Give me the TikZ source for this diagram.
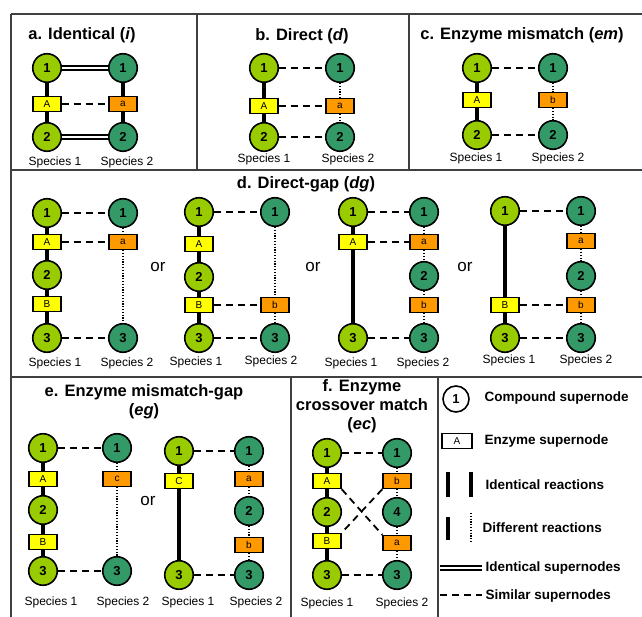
\documentclass[tikz,border=0pt]{standalone}
\usepackage{fontspec}
\setmainfont{Liberation Sans}
\definecolor{lg}{HTML}{99CC00}
\definecolor{tg}{HTML}{339966}
\definecolor{yel}{HTML}{FFFF00}
\definecolor{org}{HTML}{FF9900}
\tikzset{
 cA/.style={circle, draw=black, line width=1.6pt, fill=lg, minimum size=28.5pt, inner sep=0pt, font=\fontsize{13}{13}\selectfont\bfseries},
 cB/.style={cA, fill=tg},
 cW/.style={cA, fill=white, minimum size=26pt},
 eA/.style={rectangle, draw=black, line width=1.4pt, fill=yel, minimum width=28pt, minimum height=15pt, inner sep=0pt, font=\fontsize{10}{10}\selectfont},
 eB/.style={eA, fill=org},
 eW/.style={eA, fill=white, minimum width=30pt},
 sp/.style={font=\fontsize{12}{12}\selectfont},
 ttl/.style={font=\fontsize{16.5}{19}\selectfont\bfseries, align=center},
 idr/.style={line width=3.4pt},
 dfr/.style={line width=1.2pt, dash pattern=on 1.2pt off 1.6pt},
 sim/.style={line width=1.8pt, dash pattern=on 7pt off 5pt},
 ids/.style={double, double distance=2.2pt, line width=1.5pt},
 orr/.style={font=\fontsize{17}{17}\selectfont},
 lgt/.style={anchor=west, font=\fontsize{13.5}{15}\selectfont\bfseries},
 frm/.style={line width=2pt, draw=black!75},
}
\begin{document}
\begin{tikzpicture}[x=1pt,y=-1pt]
\useasboundingbox (0,0) rectangle (642,617);
% frame
\draw[frm] (11,14) -- (642,14);
\draw[frm] (11,14) -- (11,617);
\draw[frm] (11,170) -- (642,170);
\draw[frm] (11,377) -- (642,377);
\draw[frm] (197,14) -- (197,170);
\draw[frm] (409,14) -- (409,170);
\draw[frm] (291,377) -- (291,617);
\draw[frm] (438,377) -- (438,617);

% ---------- panel a
\node[ttl] (ta) at (82,35) {a. Identical (\textit{i})};
\node[cA] (a1) at (47,68) {1};
\node[eA] (aA) at (47,104) {A};
\node[cA] (a2) at (47,137) {2};
\node[cB] (b1) at (123,68) {1};
\node[eB] (ba) at (123,104) {a};
\node[cB] (b2) at (123,137) {2};
\node[sp] (as1) at (55,162) {Species 1};
\node[sp] (as2) at (127,162) {Species 2};
\draw[idr] (a1)--(aA) (aA)--(a2) (b1)--(ba) (ba)--(b2);
\draw[ids] (a1)--(b1) (a2)--(b2);
\draw[sim] (aA)--(ba);

% ---------- panel b
\node[ttl] (tb) at (302,36) {b. Direct (\textit{d})};
\node[cA] (c1) at (264,68) {1};
\node[eA] (cA) at (264,106) {A};
\node[cA] (c2) at (264,137) {2};
\node[cB] (d1) at (340,68) {1};
\node[eB] (da) at (340,106) {a};
\node[cB] (d2) at (340,137) {2};
\node[sp] (bs1) at (264,159) {Species 1};
\node[sp] (bs2) at (348,159) {Species 2};
\draw[idr] (c1)--(cA) (cA)--(c2);
\draw[dfr] (d1)--(da) (da)--(d2);
\draw[sim] (c1)--(d1) (cA)--(da) (c2)--(d2);

% ---------- panel c
\node[ttl] (tc) at (522,35) {c. Enzyme mismatch (\textit{em})};
\node[cA] (e1) at (477,68) {1};
\node[eA] (eA) at (477,100) {A};
\node[cA] (e2) at (477,135) {2};
\node[cB] (f1) at (553,68) {1};
\node[eB] (fb) at (553,100) {b};
\node[cB] (f2) at (553,135) {2};
\node[sp] (cs1) at (476,158) {Species 1};
\node[sp] (cs2) at (558,158) {Species 2};
\draw[idr] (e1)--(eA) (eA)--(e2);
\draw[dfr] (f1)--(fb) (fb)--(f2);
\draw[sim] (e1)--(f1) (e2)--(f2);

% ---------- panel d
\node[ttl] (td) at (306,184) {d. Direct-gap (\textit{dg})};
% sub 1
\node[cA] (g1) at (47,213) {1};
\node[eA] (gA) at (47,242) {A};
\node[cA] (g2) at (47,275) {2};
\node[eA] (gB) at (47,304) {B};
\node[cA] (g3) at (47,338) {3};
\node[cB] (h1) at (123,213) {1};
\node[eB] (ha) at (123,242) {a};
\node[cB] (h3) at (123,338) {3};
\node[sp] (ds1) at (55,363) {Species 1};
\node[sp] (ds2) at (127,363) {Species 2};
\draw[idr] (g1)--(gA) (gA)--(g2) (g2)--(gB) (gB)--(g3);
\draw[dfr] (h1)--(ha) (ha)--(h3);
\draw[sim] (g1)--(h1) (gA)--(ha) (g3)--(h3);
\node[orr] (or1) at (158,267) {or};
% sub 2
\node[cA] (i1) at (199,212) {1};
\node[eA] (iA) at (199,244) {A};
\node[cA] (i2) at (199,277) {2};
\node[eA] (iB) at (199,305) {B};
\node[cA] (i3) at (199,338) {3};
\node[cB] (j1) at (275,212) {1};
\node[eB] (jb) at (275,305) {b};
\node[cB] (j3) at (275,338) {3};
\node[sp] (ds3) at (196,362) {Species 1};
\node[sp] (ds4) at (271,361) {Species 2};
\draw[idr] (i1)--(iA) (iA)--(i2) (i2)--(iB) (iB)--(i3);
\draw[dfr] (j1)--(jb) (jb)--(j3);
\draw[sim] (i1)--(j1) (iB)--(jb) (i3)--(j3);
\node[orr] (or2) at (313,267) {or};
% sub 3
\node[cA] (k1) at (353,212) {1};
\node[eA] (kA) at (353,242) {A};
\node[cA] (k3) at (353,338) {3};
\node[cB] (l1) at (424,212) {1};
\node[eB] (la) at (424,242) {a};
\node[cB] (l2) at (424,276) {2};
\node[eB] (lb) at (424,305) {b};
\node[cB] (l3) at (424,338) {3};
\node[sp] (ds5) at (351,363) {Species 1};
\node[sp] (ds6) at (423,363) {Species 2};
\draw[idr] (k1)--(kA) (kA)--(k3);
\draw[dfr] (l1)--(la) (la)--(l2) (l2)--(lb) (lb)--(l3);
\draw[sim] (k1)--(l1) (kA)--(la) (k3)--(l3);
\node[orr] (or3) at (465,267) {or};
% sub 4
\node[cA] (m1) at (505,211) {1};
\node[eA] (mB) at (505,305) {B};
\node[cA] (m3) at (505,338) {3};
\node[cB] (n1) at (581,211) {1};
\node[eB] (na) at (581,241) {a};
\node[cB] (n2) at (581,276) {2};
\node[eB] (nb) at (581,305) {b};
\node[cB] (n3) at (581,338) {3};
\node[sp] (ds7) at (509,360) {Species 1};
\node[sp] (ds8) at (586,360) {Species 2};
\draw[idr] (m1)--(mB) (mB)--(m3);
\draw[dfr] (n1)--(na) (na)--(n2) (n2)--(nb) (nb)--(n3);
\draw[sim] (m1)--(n1) (mB)--(nb) (m3)--(n3);

% ---------- panel e
\node[ttl] (te) at (144,402) {e. Enzyme mismatch-gap\\(\textit{eg})};
% sub 1
\node[cA] (o1) at (43,448) {1};
\node[eA] (oA) at (43,479) {A};
\node[cA] (o2) at (43,510) {2};
\node[eA] (oB) at (43,542) {B};
\node[cA] (o3) at (43,571) {3};
\node[cB] (p1) at (117,448) {1};
\node[eB] (pc) at (117,479) {c};
\node[cB] (p3) at (117,571) {3};
\node[sp] (es1) at (51,602) {Species 1};
\node[sp] (es2) at (123,602) {Species 2};
\draw[idr] (o1)--(oA) (oA)--(o2) (o2)--(oB) (oB)--(o3);
\draw[dfr] (p1)--(pc) (pc)--(p3);
\draw[sim] (o1)--(p1) (o3)--(p3);
\node[orr] (or4) at (148,501) {or};
% sub 2
\node[cA] (q1) at (179,451) {1};
\node[eA] (qC) at (179,481) {C};
\node[cA] (q3) at (179,575) {3};
\node[cB] (r1) at (249,451) {1};
\node[eB] (ra) at (249,479) {a};
\node[cB] (r2) at (249,511) {2};
\node[eB] (rb) at (249,545) {b};
\node[cB] (r3) at (249,575) {3};
\node[sp] (es3) at (188,602) {Species 1};
\node[sp] (es4) at (256,602) {Species 2};
\draw[idr] (q1)--(qC) (qC)--(q3);
\draw[dfr] (r1)--(ra) (ra)--(r2) (r2)--(rb) (rb)--(r3);
\draw[sim] (q1)--(r1) (q3)--(r3);

% ---------- panel f
\node[ttl] (tf) at (362,406) {f. Enzyme\\crossover match\\(\textit{ec})};
\node[cA] (s1) at (327,453) {1};
\node[eA] (sA) at (327,481) {A};
\node[cA] (s2) at (327,512) {2};
\node[eA] (sB) at (327,541) {B};
\node[cA] (s3) at (327,575) {3};
\node[cB] (t1) at (397,453) {1};
\node[eB] (tb) at (397,481) {b};
\node[cB] (t4) at (397,512) {4};
\node[eB] (ta) at (397,543) {a};
\node[cB] (t3) at (397,575) {3};
\node[sp] (fs1) at (327,603) {Species 1};
\node[sp] (fs2) at (402,603) {Species 2};
\draw[idr] (s1)--(sA) (sA)--(s2) (s2)--(sB) (sB)--(s3);
\draw[dfr] (t1)--(tb) (tb)--(t4) (t4)--(ta) (ta)--(t3);
\draw[sim] (s1)--(t1) (s3)--(t3);
\draw[sim] (sA.south east)--(ta.north west);
\draw[sim] (tb.south west)--(sB.north east);

% ---------- legend
\node[cW] (lc) at (456,399) {1};
\node[lgt] (lt1) at (481,398) {Compound supernode};
\node[eW] (le) at (457,441) {A};
\node[lgt] (lt2) at (481,441) {Enzyme supernode};
\coordinate (r1t) at (448,472); \coordinate (r1b) at (448,497);
\coordinate (r2t) at (471,472); \coordinate (r2b) at (471,497);
\draw[idr] (r1t)--(r1b) (r2t)--(r2b);
\node[lgt] (lt3) at (482,485) {Identical reactions};
\coordinate (r3t) at (448,517); \coordinate (r3b) at (448,540);
\coordinate (r4t) at (471,513); \coordinate (r4b) at (471,542);
\draw[idr] (r3t)--(r3b);
\draw[dfr] (r4t)--(r4b);
\node[lgt] (lt4) at (479,528) {Different reactions};
\coordinate (s1l) at (440,568); \coordinate (s1r) at (482,568);
\draw[ids] (s1l)--(s1r);
\node[lgt] (lt5) at (482,568) {Identical supernodes};
\coordinate (s2l) at (440,595); \coordinate (s2r) at (482,595);
\draw[sim] (s2l)--(s2r);
\node[lgt] (lt6) at (482,596) {Similar supernodes};
\end{tikzpicture}
\end{document}
